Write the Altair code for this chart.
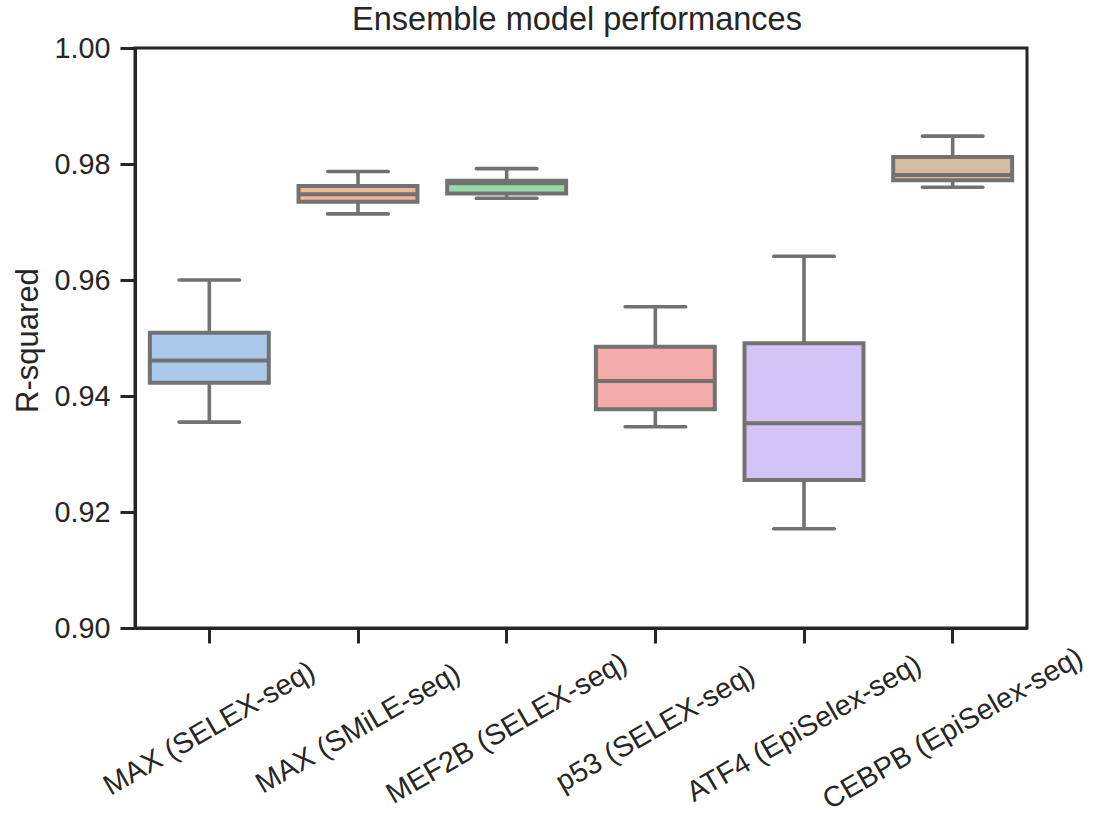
import altair as alt
import pandas as pd

categories = ["MAX (SELEX-seq)", "MAX (SMiLE-seq)", "MEF2B (SELEX-seq)",
              "p53 (SELEX-seq)", "ATF4 (EpiSelex-seq)", "CEBPB (EpiSelex-seq)"]
whisker_low = [0.9355, 0.9714, 0.9741, 0.9347, 0.9171, 0.9760]
q1 = [0.9423, 0.9735, 0.9749, 0.9377, 0.9255, 0.9772]
median = [0.9461, 0.9748, 0.9767, 0.9426, 0.9353, 0.9781]
q3 = [0.9509, 0.9762, 0.9771, 0.9485, 0.9491, 0.9812]
whisker_high = [0.9600, 0.9787, 0.9792, 0.9554, 0.9641, 0.9848]
colors = ["#abc9ea", "#efb792", "#98daa7", "#f3aba8", "#d3c4f7", "#d6bba3"]
y_ticks = [0.90, 0.92, 0.94, 0.96, 0.98, 1.00]
title_text = ["Ensemble model performances"]

df = pd.DataFrame({"cat": categories, "lo": whisker_low, "q1": q1,
                   "med": median, "q3": q3, "hi": whisker_high})

FONT = "Liberation Sans"
INK = "#262626"
GRAY = "#727272"

x_enc = alt.X("cat:N", sort=categories, title=None,
              scale=alt.Scale(paddingInner=0, paddingOuter=0),
              axis=alt.Axis(labelAngle=330, labelAlign="center", labelBaseline="middle",
                            labelPadding=85, labelFontSize=28.8, labelFont=FONT,
                            labelLimit=0, labelOverlap=False,
                            labelColor=INK, tickSize=15, tickWidth=3, tickColor=INK,
                            domainColor=INK, domainWidth=3, grid=False))
y_scale = alt.Scale(domain=[0.90, 1.00], nice=False, zero=False)
y_axis = alt.Axis(values=y_ticks, format=".2f", title="R-squared",
                  labelFontSize=28.8, labelFont=FONT, labelColor=INK, labelPadding=10,
                  tickSize=15, tickWidth=3, tickColor=INK, domainColor=INK, domainWidth=3,
                  grid=False, titleFont=FONT, titleFontSize=31, titleFontWeight="normal",
                  titleColor=INK, titleAngle=270, titleX=-98, titleY=292,
                  titleAlign="center", titleBaseline="alphabetic")

base = alt.Chart(df)

whisker = base.mark_rule(color=GRAY, strokeWidth=3.6).encode(
    x=x_enc, y=alt.Y("lo:Q", scale=y_scale, axis=y_axis), y2="hi:Q")

caps_lo = base.mark_tick(color=GRAY, size=64, thickness=3.6, cornerRadius=1.8, opacity=1).encode(
    x=x_enc, y=alt.Y("lo:Q", scale=y_scale, axis=y_axis))
caps_hi = base.mark_tick(color=GRAY, size=64, thickness=3.6, cornerRadius=1.8, opacity=1).encode(
    x=x_enc, y=alt.Y("hi:Q", scale=y_scale, axis=y_axis))

box = base.mark_bar(width=alt.RelativeBandSize(0.8), stroke=GRAY, strokeWidth=4,
                    opacity=1).encode(
    x=x_enc, y=alt.Y("q1:Q", scale=y_scale, axis=y_axis), y2="q3:Q",
    color=alt.Color("cat:N", scale=alt.Scale(domain=categories, range=colors), legend=None))

med = base.mark_tick(color=GRAY, size=119, thickness=4, opacity=1).encode(
    x=x_enc, y=alt.Y("med:Q", scale=y_scale, axis=y_axis))

title = alt.Chart(pd.DataFrame({"t": title_text})).mark_text(
    font=FONT, fontSize=32.5, color=INK, align="center", baseline="alphabetic"
).encode(text="t:N", x=alt.value(442), y=alt.value(-18))

chart = alt.layer(whisker, caps_lo, caps_hi, box, med, title).properties(
    width=892, height=580,
    autosize=alt.AutoSizeParams(type="none"),
    padding={"left": 135, "top": 48, "right": 66, "bottom": 197},
).configure_view(stroke=INK, strokeWidth=3)

chart.save("out.html", embed_options={"renderer": "svg", "actions": False})
